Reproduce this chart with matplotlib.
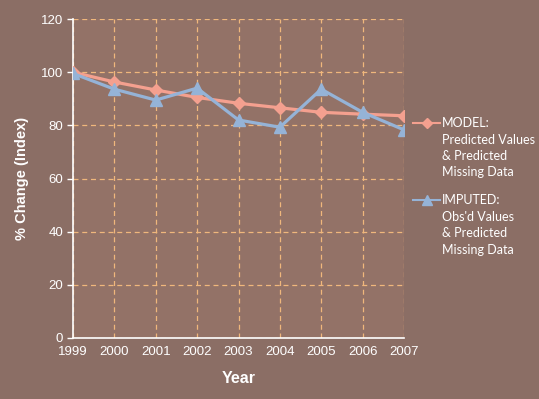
import matplotlib.pyplot as plt
from matplotlib.lines import Line2D

years = [1999, 2000, 2001, 2002, 2003, 2004, 2005, 2006, 2007]
model = [100, 96.3, 93.3, 90.5, 88.3, 86.6, 84.9, 84.2, 83.6]
imputed = [99.5, 93.6, 89.5, 94.0, 82.0, 79.3, 93.6, 84.9, 78.3]
model_label = ['MODEL:', 'Predicted Values', '& Predicted', 'Missing Data']
imputed_label = ['IMPUTED:', "Obs'd Values", '& Predicted', 'Missing Data']

bg_out = '#8B6E65'
bg_in = '#937267'
c_model = '#F4A08F'
c_imp = '#95B3D7'
c_grid = '#F0B77C'

plt.rcParams['font.family'] = ['Liberation Sans', 'DejaVu Sans']

fig = plt.figure(figsize=(5.39, 3.99), dpi=100, facecolor=bg_out)
ax = fig.add_axes([73/539, 61/399, 331/539, 319/399])
ax.set_facecolor(bg_in)

ax.plot(years, model, color=c_model, lw=2.3, marker='D', ms=6.5, zorder=3)
ax.plot(years, imputed, color=c_imp, lw=2.3, marker='^', ms=8.5, zorder=4)

ax.set_xlim(1999, 2007)
ax.set_ylim(0, 120)
ax.set_xticks(years)
ax.set_yticks(range(0, 121, 20))
ax.grid(True, color=c_grid, ls=(0, (4, 3)), lw=0.9)
ax.set_axisbelow(True)
for s in ['top', 'right']:
    ax.spines[s].set_visible(False)
for s in ['left', 'bottom']:
    ax.spines[s].set_color('white')
    ax.spines[s].set_linewidth(1.2)
ax.tick_params(axis='y', colors='white', length=4, width=1, labelsize=9.5, pad=3)
ax.tick_params(axis='x', colors='white', length=0, labelsize=9.5, pad=6)

ax.set_xlabel('Year', color='white', fontsize=11.5, fontweight='bold', labelpad=9)
ax.set_ylabel('% Change (Index)', color='white', fontsize=10.5, fontweight='bold', labelpad=9)

# legend drawn by hand so the key sits on the first text line
def legend_entry(y0, color, marker, ms, lines):
    fig.add_artist(Line2D([413/539, 440/539], [1 - y0/399] * 2, color=color, lw=1.5))
    fig.add_artist(Line2D([426.5/539], [1 - y0/399], color=color, marker=marker,
                          ms=ms, lw=0))
    for i, t in enumerate(lines):
        fig.text(442/539, 1 - (y0 + i*16.5)/399, t, color='white', fontsize=9.0,
                 family=['Lato', 'DejaVu Sans'], va='center', ha='left')

legend_entry(123, c_model, 'D', 5, model_label)
legend_entry(200, c_imp, '^', 6.5, imputed_label)

fig.savefig('out.png', dpi=100, facecolor=bg_out)
